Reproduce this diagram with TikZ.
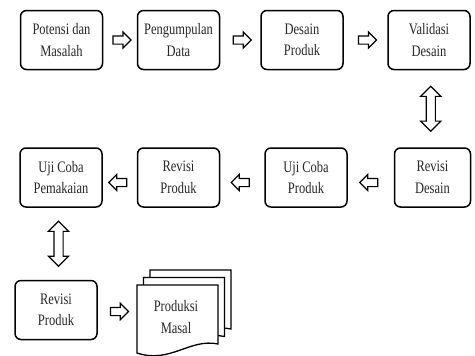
\documentclass[tikz,border=0pt]{standalone}
\usepackage{fontspec}
\setmainfont{Liberation Serif}[FakeStretch=0.78]
\usetikzlibrary{shapes.arrows,calc}

\tikzset{
  box/.style={draw, line width=1.5pt, rounded corners=6pt, minimum width=82pt,
    minimum height=59pt, align=center, text=black!85,
    font=\fontsize{16}{21.5}\selectfont},
  rarrow/.style={single arrow, draw, line width=1.2pt, minimum height=18pt,
    minimum width=15pt, single arrow head extend=4pt, inner sep=3.5pt},
  larrow/.style={rarrow, shape border rotate=180},
  udarrow/.style={double arrow, draw, line width=1.2pt, minimum height=45pt,
    minimum width=19pt, double arrow head extend=5.5pt, inner sep=4pt,
    shape border rotate=90},
  page/.style={draw, line width=1.3pt, fill=white},
}

\begin{document}
\begin{tikzpicture}[x=1pt,y=-1pt]
    \useasboundingbox (0,0) rectangle (475,356);

    \node[box] (potensi) at (61.5, 40) {Potensi dan\\Masalah};
    \node[box] (data) at (178.5, 40) {Pengumpulan\\Data};
    \node[box] (desain) at (302, 40) {Desain\\Produk};
    \node[box] (validasi) at (429, 40) {Validasi\\Desain};

    \node[rarrow] (a0) at ($(potensi.east)!0.5!(data.west)$) {};
    \node[rarrow] (a1) at ($(data.east)!0.5!(desain.west)$) {};
    \node[rarrow] (a2) at ($(desain.east)!0.5!(validasi.west)$) {};

    \node[box] (pemakaian) at (61, 177.5) {Uji Coba\\Pemakaian};
    \node[box] (revproduk) at (178.5, 177.5) {Revisi\\Produk};
    \node[box] (ujiproduk) at (306, 177.5) {Uji Coba\\Produk};
    \node[box, minimum width=76pt] (revdesain) at (432.5, 177.5) {Revisi\\Desain};

    \node[udarrow] (v0) at ($(validasi.south)!0.5!(revdesain.north)$) {};

    \node[larrow, yshift=-5pt] (a3) at ($(ujiproduk.east)!0.5!(revdesain.west)$) {};
    \node[larrow, yshift=-5pt] (a4) at ($(revproduk.east)!0.5!(ujiproduk.west)$) {};
    \node[larrow, yshift=-5pt] (a5) at ($(pemakaian.east)!0.5!(revproduk.west)$) {};

    \node[box] (revproduk2) at (56, 310) {Revisi\\Produk};

    \node[udarrow] (v1) at ($(pemakaian.south)!0.5!(revproduk2.north)$) {};

    % stack of pages, back to front
    \foreach \d in {2,1,0} {
        \draw[page] (137+6.5*\d, 285-7.5*\d) -- (218+6.5*\d, 285-7.5*\d)
            -- (218+6.5*\d, 344-7.5*\d)
            .. controls (190+6.5*\d, 338-7.5*\d) and (170+6.5*\d, 364-7.5*\d)
            .. (137+6.5*\d, 353-7.5*\d) -- cycle;
    }
    \coordinate (docleft) at (137, 313);
    \node[align=center, text=black!85, font=\fontsize{16}{21.5}\selectfont]
        (masal) at (176, 317) {Produksi\\Masal};

    \node[rarrow] (a6) at ($(revproduk2.east)!0.5!(docleft)$) {};
\end{tikzpicture}
\end{document}
